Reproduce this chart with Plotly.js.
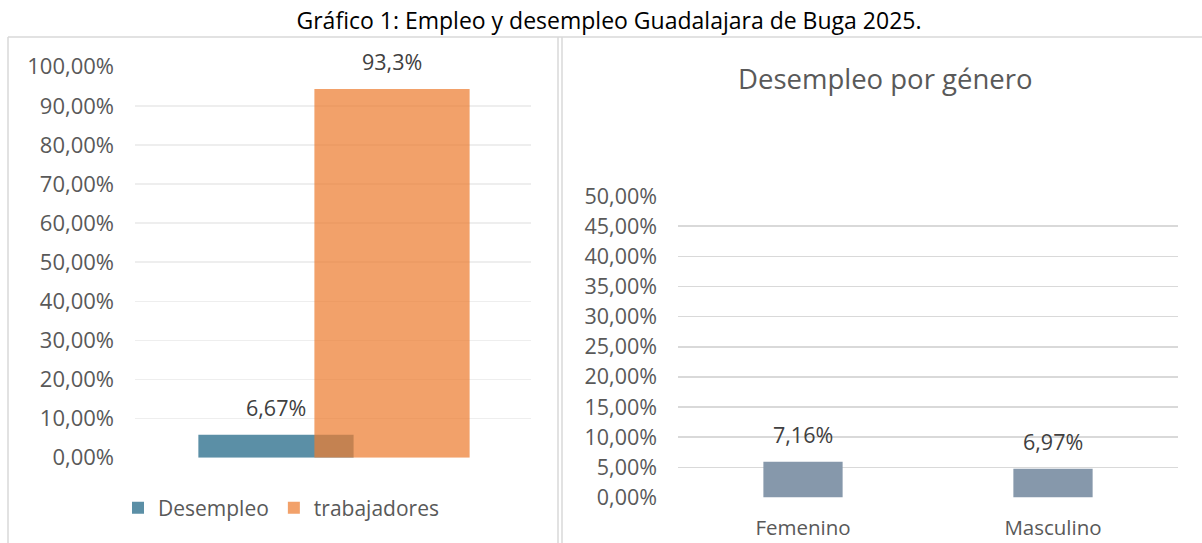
<!DOCTYPE html>
<html>
<head>
<meta charset="utf-8">
<script src="https://cdn.plot.ly/plotly-3.0.1.min.js"></script>
<style>html,body{margin:0;padding:0;background:#fff;}#chart{width:1202px;height:543px;}</style>
</head>
<body>
<div id="chart"></div>
<script>
// ---- data ----
const mainTitle = 'Gráfico 1: Empleo y desempleo Guadalajara de Buga 2025.';
const leftSeries = ['Desempleo', 'trabajadores'];
const leftCategory = [''];
const leftValues = [0.059, 0.943];
const leftLabels = ['6,67%', '93,3%'];

const rightTitle = 'Desempleo por género';
const genderCats = ['Femenino', 'Masculino'];
const genderValues = [0.0594, 0.0475];
const genderLabels = ['7,16%', '6,97%'];

// ---- style ----
const W = 1202, H = 543;
const FONT = 'Open Sans, Lato, sans-serif';
const leftColors = ['#5b8fa6', 'rgba(237,125,49,0.72)'];
const genderColor = '#8698ab';
const barW = 0.392;
const barOff = [-0.34, -0.047];
const px = x => x / W;
const py = y => 1 - y / H;

const traces = [
  {type: 'bar', name: leftSeries[0], x: leftCategory, y: [leftValues[0]],
   width: [barW], offset: [barOff[0]], marker: {color: leftColors[0]},
   xaxis: 'x', yaxis: 'y', hoverinfo: 'none'},
  {type: 'bar', name: leftSeries[1], x: leftCategory, y: [leftValues[1]],
   width: [barW], offset: [barOff[1]], marker: {color: leftColors[1]},
   xaxis: 'x', yaxis: 'y', hoverinfo: 'none'},
  {type: 'bar', name: 'gen', x: genderCats, y: genderValues, width: 0.317,
   marker: {color: genderColor}, xaxis: 'x2', yaxis: 'y2', showlegend: false, hoverinfo: 'none'}
];

const annotations = [];
leftValues.forEach((v, i) => annotations.push({
  xref: 'x', yref: 'y', x: barOff[i] + barW / 2, y: v, text: leftLabels[i],
  showarrow: false, yanchor: 'bottom', yshift: 11,
  font: {family: FONT, size: 21.5, color: '#404040'}
}));
genderValues.forEach((v, i) => annotations.push({
  xref: 'x2', yref: 'y2', x: genderCats[i], y: v, text: genderLabels[i],
  showarrow: false, yanchor: 'bottom', yshift: 11,
  font: {family: FONT, size: 21.5, color: '#404040'}
}));
annotations.push({
  xref: 'paper', yref: 'paper', x: px(885), y: py(79), xanchor: 'center', yanchor: 'middle',
  text: rightTitle, showarrow: false, font: {family: FONT, size: 27.5, color: '#595959'}
});

const lineStyle = {color: '#d9d9d9', width: 1.5};
const shapes = [
  {type: 'line', xref: 'paper', yref: 'paper', x0: px(8), x1: px(1202), y0: py(37), y1: py(37), line: lineStyle},
  {type: 'line', xref: 'paper', yref: 'paper', x0: px(8), x1: px(8), y0: py(37), y1: 0, line: lineStyle},
  {type: 'line', xref: 'paper', yref: 'paper', x0: px(558), x1: px(558), y0: py(37), y1: 0, line: lineStyle},
  {type: 'line', xref: 'paper', yref: 'paper', x0: px(562), x1: px(562), y0: py(37), y1: 0, line: lineStyle}
];

const layout = {
  width: W, height: H,
  margin: {l: 0, r: 0, t: 0, b: 0},
  paper_bgcolor: '#fff', plot_bgcolor: 'rgba(0,0,0,0)',
  separators: ',.',
  barmode: 'overlay',
  font: {family: FONT, color: '#595959'},
  title: {text: mainTitle, x: px(609), xanchor: 'center', y: py(21), yanchor: 'middle',
          font: {family: FONT, size: 23, color: '#000'}},
  xaxis: {domain: [px(135), px(531)], range: [-0.5, 0.5], type: 'category',
          showticklabels: false, showgrid: false, zeroline: false, showline: false, fixedrange: true},
  yaxis: {domain: [py(457.7), py(66.7)], range: [0, 1.0001], dtick: 0.1, tick0: 0,
          tickformat: '.2%', showgrid: true, gridcolor: '#eeeeee', gridwidth: 1.5,
          zeroline: false, showline: false, ticks: '', ticklabelstandoff: 20,
          tickfont: {family: FONT, size: 22, color: '#595959'}, fixedrange: true},
  xaxis2: {domain: [px(678), px(1178)], range: [-0.5, 1.5], type: 'category', anchor: 'y2',
           showgrid: false, zeroline: false, showline: false, ticks: '', ticklabelstandoff: 16,
           tickfont: {family: FONT, size: 20.5, color: '#595959'}, fixedrange: true},
  yaxis2: {domain: [py(497.5), py(196)], range: [0, 0.50005], dtick: 0.05, tick0: 0, anchor: 'x2',
           tickformat: '.2%', showgrid: true, gridcolor: '#d9d9d9', gridwidth: 1.5,
           zeroline: false, showline: false, ticks: '', ticklabelstandoff: 20,
           tickfont: {family: FONT, size: 21.5, color: '#595959'}, fixedrange: true},
  showlegend: true,
  legend: {orientation: 'h', x: px(118), xanchor: 'left', y: py(508), yanchor: 'middle',
           font: {family: FONT, size: 21, color: '#595959'}, bgcolor: 'rgba(0,0,0,0)',
           traceorder: 'normal'},
  annotations: annotations,
  shapes: shapes
};

Plotly.newPlot('chart', traces, layout, {displayModeBar: false, staticPlot: true});
</script>
</body>
</html>
